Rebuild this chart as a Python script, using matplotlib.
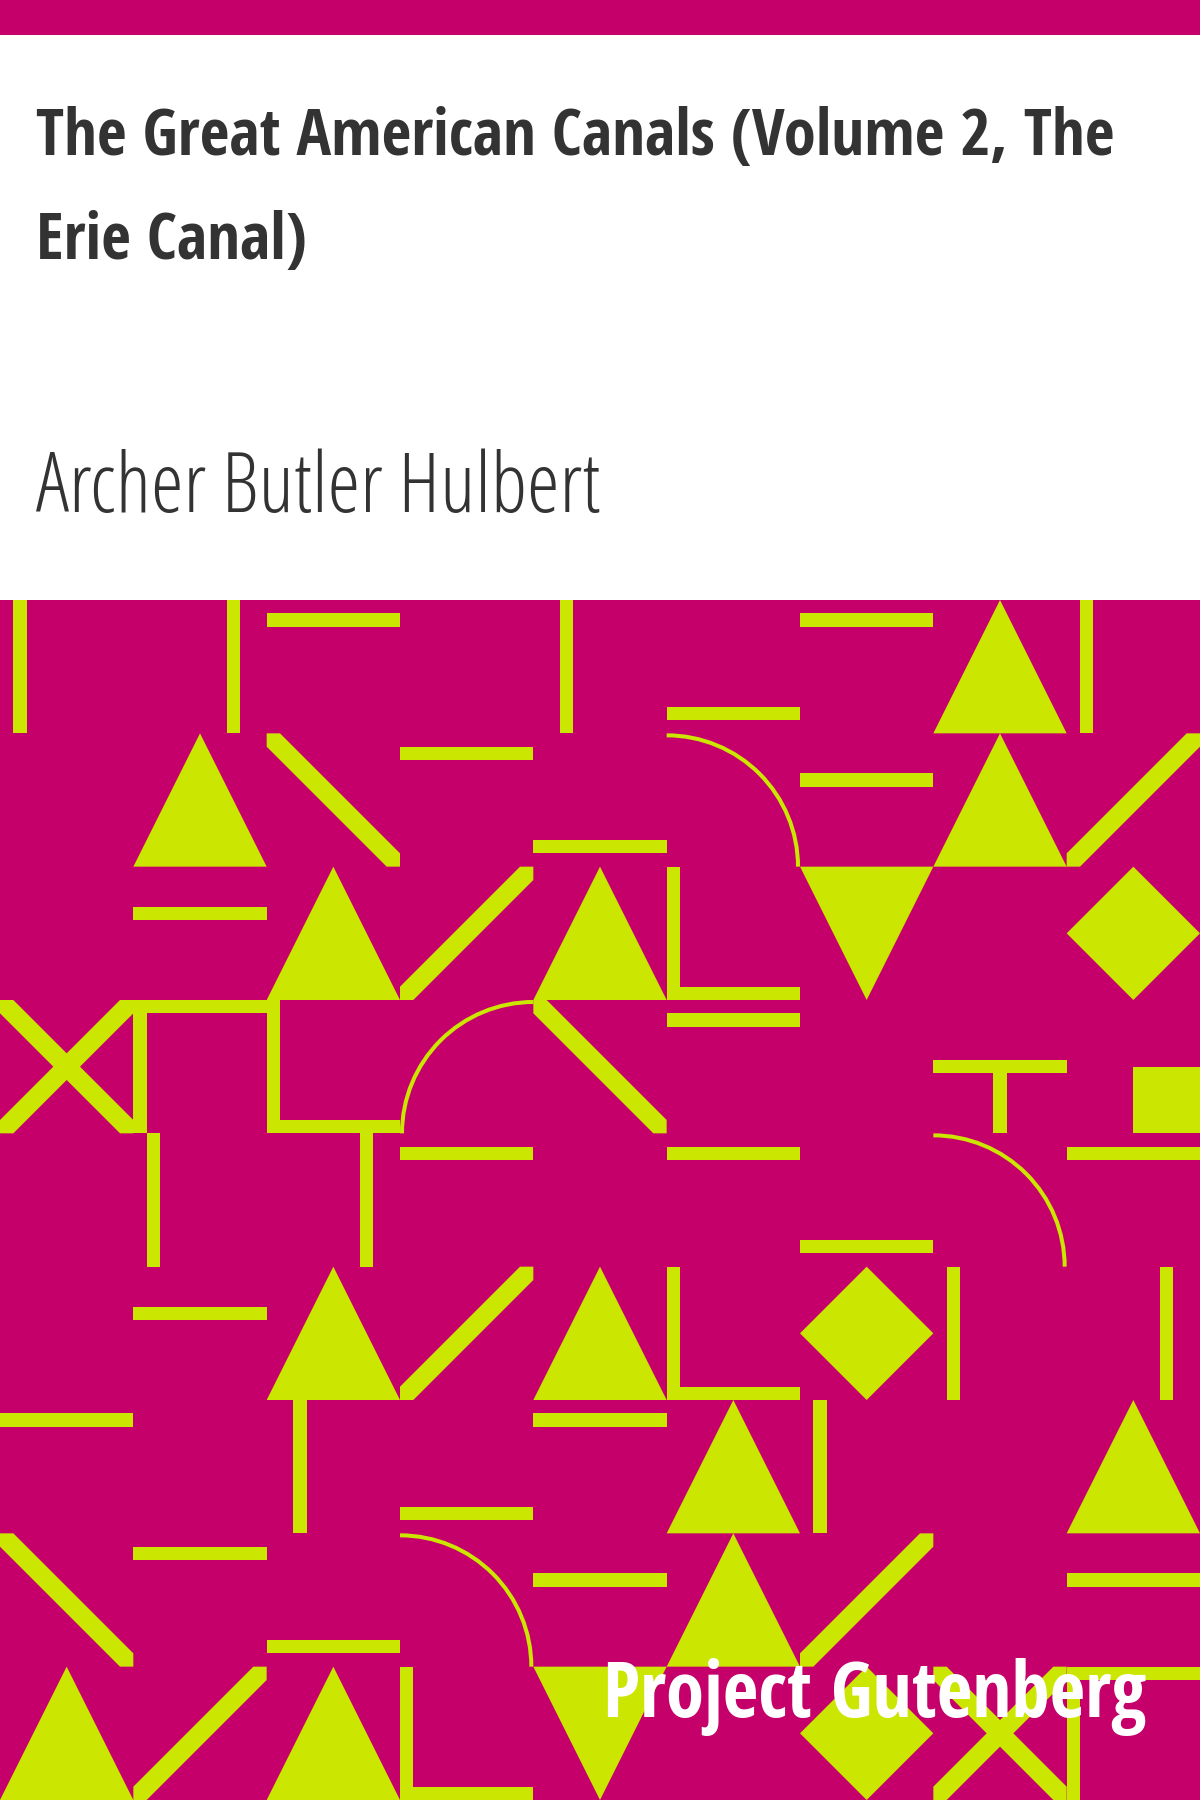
import numpy as np
import matplotlib
matplotlib.use("Agg")
import matplotlib.pyplot as plt
from matplotlib import patches, font_manager
from matplotlib.font_manager import FontProperties

# cover texts
title_lines = ["The Great American Canals (Volume 2, The", "Erie Canal)"]
author = "Archer Butler Hulbert"
brand = "Project Gutenberg"

# pattern grid, one string per row, one code per cell
# V/H + n : vertical/horizontal bar in tenth n ; U/D triangle up/down ; M diamond
# B "\" , F "/" , X cross , L left+bottom , G top+left , T tee , Q quarter square
# Abl/Abr quarter arc centred on bottom-left / bottom-right corner ; . empty
row0 = "V1 V7 H1 . V2 H8 H1 U V1"
row1 = ". U B H1 H8 Abl H3 U F"
row2 = ". H3 U F U L D . M"
row3 = "X G L Abr B H1 . T Q"
row4 = ". V1 V7 H1 . H1 H8 Abl H1"
row5 = ". H3 U F U L M V1 V7"
row6 = "H1 . V2 H8 H1 U V1 . U"
row7 = "B H1 H8 Abl H3 U F . H3"
row8 = "U F U L D . M X G"
grid_rows = [row0, row1, row2, row3, row4, row5, row6, row7, row8]

MAGENTA = "#c5006a"
LIME = "#cbe600"
INK = "#333333"
W, H = 1200, 1800
S = W / 9.0          # cell size
T = S / 10.0         # bar thickness
TOP = 600            # where the pattern starts


def find_font(weight):
    # look for a condensed sans file with the wanted weight
    fams = ["Open Sans Condensed", "Open Sans", "Fira Sans Condensed", "Roboto Condensed"]
    for fam in fams:
        hits = []
        for f in font_manager.fontManager.ttflist:
            fn = f.fname.split("/")[-1].lower()
            if not f.name.startswith(fam) or f.style != "normal":
                continue
            if "cond" not in f.name.lower() and "cond" not in fn and f.stretch != "condensed":
                continue
            if "semicond" in fn.replace("_", "").replace("-", "") or "Semi" in f.name:
                continue
            hits.append((abs(f.weight - weight), f.fname))
        if hits:
            hits.sort()
            if hits[0][0] <= 100:
                return FontProperties(fname=hits[0][1])
    return FontProperties(family="DejaVu Sans", stretch="condensed",
                          weight="bold" if weight >= 600 else "light")


def draw_cell(ax, code, x, y):
    kw = dict(facecolor=LIME, edgecolor="none", lw=0)
    if code == ".":
        return
    kind = code[0]
    if kind == "V":
        k = int(code[1:])
        ax.add_patch(patches.Rectangle((x + k * T, y), T, S, **kw))
    elif kind == "H":
        k = int(code[1:])
        ax.add_patch(patches.Rectangle((x, y + k * T), S, T, **kw))
    elif kind == "U":
        ax.add_patch(patches.Polygon([(x, y + S), (x + S / 2, y), (x + S, y + S)], **kw))
    elif kind == "D":
        ax.add_patch(patches.Polygon([(x, y), (x + S, y), (x + S / 2, y + S)], **kw))
    elif kind == "M":
        ax.add_patch(patches.Polygon([(x + S / 2, y), (x + S, y + S / 2),
                                      (x + S / 2, y + S), (x, y + S / 2)], **kw))
    elif kind in "BX":
        ax.add_patch(patches.Polygon([(x, y), (x + T, y), (x + S, y + S - T), (x + S, y + S),
                                      (x + S - T, y + S), (x, y + T)], **kw))
    if kind in "FX":
        ax.add_patch(patches.Polygon([(x, y + S), (x, y + S - T), (x + S - T, y), (x + S, y),
                                      (x + S, y + T), (x + T, y + S)], **kw))
    if kind == "L":
        ax.add_patch(patches.Rectangle((x, y), T, S, **kw))
        ax.add_patch(patches.Rectangle((x, y + S - T), S, T, **kw))
    elif kind == "G":
        ax.add_patch(patches.Rectangle((x, y), T, S, **kw))
        ax.add_patch(patches.Rectangle((x, y), S, T, **kw))
    elif kind == "T":
        ax.add_patch(patches.Rectangle((x, y + S / 2 - T / 2), S, T, **kw))
        ax.add_patch(patches.Rectangle((x + S / 2 - T / 2, y + S / 2), T, S / 2, **kw))
    elif kind == "Q":
        ax.add_patch(patches.Rectangle((x + S / 2, y + S / 2), S / 2, S / 2, **kw))
    elif kind == "A":
        r = S - 2
        if code[1:] == "bl":
            ax.add_patch(patches.Arc((x, y + S), 2 * r, 2 * r, theta1=270, theta2=360,
                                     color=LIME, lw=2.9))
        else:
            ax.add_patch(patches.Arc((x + S, y + S), 2 * r, 2 * r, theta1=180, theta2=270,
                                     color=LIME, lw=2.9))


def fit_width(fig, txt, target):
    # shrink/grow a text so it spans `target` pixels
    fig.canvas.draw()
    w = txt.get_window_extent(fig.canvas.get_renderer()).width
    txt.set_fontsize(txt.get_fontsize() * target / w)
    return txt.get_fontsize()


bold_fp = find_font(700)
light_fp = find_font(300)

fig = plt.figure(figsize=(12, 18), dpi=100)
ax = fig.add_axes([0, 0, 1, 1])
ax.set_xlim(0, W)
ax.set_ylim(H, 0)
ax.axis("off")

ax.add_patch(patches.Rectangle((0, 0), W, H, facecolor="white", edgecolor="none"))
ax.add_patch(patches.Rectangle((0, 0), W, 35, facecolor=MAGENTA, edgecolor="none"))
ax.add_patch(patches.Rectangle((0, TOP), W, H - TOP, facecolor=MAGENTA, edgecolor="none"))

for r, row in enumerate(grid_rows):
    for c, code in enumerate(row.split()):
        draw_cell(ax, code, c * S, TOP + r * S)

t1 = ax.text(36, 155, title_lines[0], fontproperties=bold_fp, fontsize=56, color=INK,
             va="baseline", ha="left")
size = fit_width(fig, t1, 1078)
ax.text(36, 259, title_lines[1], fontproperties=bold_fp, fontsize=size, color=INK,
        va="baseline", ha="left")
ta = ax.text(36, 512, author, fontproperties=light_fp, fontsize=57, color=INK,
             va="baseline", ha="left")
fit_width(fig, ta, 564)
tb = ax.text(1146, 1717, brand, fontproperties=bold_fp, fontsize=65, color="white",
             va="baseline", ha="right")
fit_width(fig, tb, 544)

fig.savefig("out.png", dpi=100)
